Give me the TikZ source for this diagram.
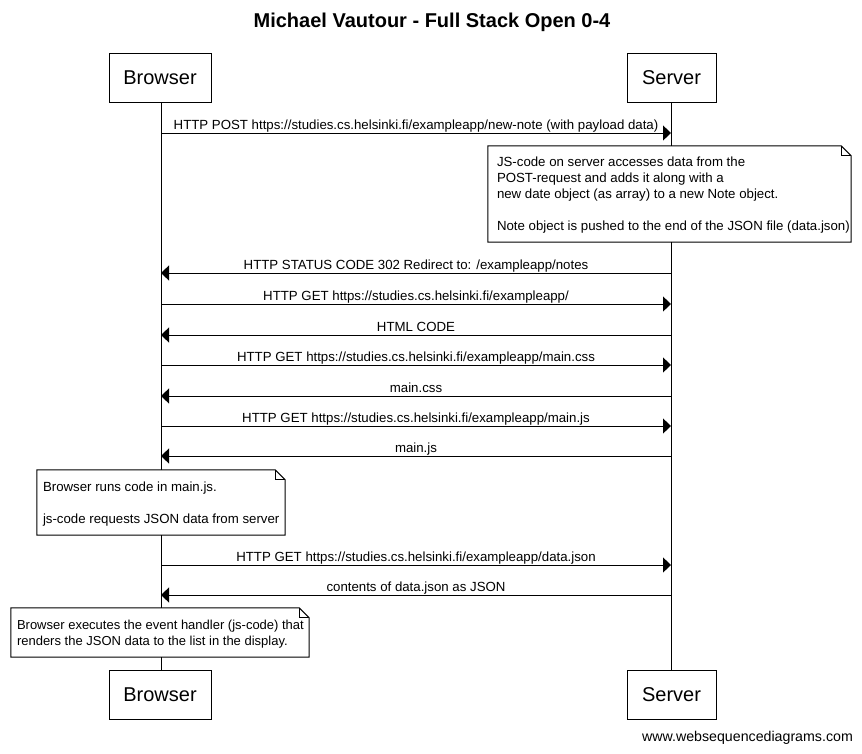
\documentclass[tikz,border=0pt]{standalone}
\usepackage{fontspec}
\setmainfont{Liberation Sans}
\usetikzlibrary{arrows.meta,calc}
\begin{document}
\begin{tikzpicture}[x=1pt,y=-1pt,
  actor/.style={draw, line width=1pt, fill=white, minimum height=49pt, inner sep=0pt, font=\fontsize{20}{24}\selectfont},
  life/.style={line width=1pt},
  msg/.style={line width=1pt, -{Triangle[length=8pt,width=15pt]}},
  lbl/.style={font=\fontsize{13.25}{16}\selectfont, anchor=base, inner sep=0pt, yshift=4pt},
  notebox/.style={fill=white, draw=none, inner sep=0pt},
  notetext/.style={anchor=west, inner sep=0pt, align=left, font=\fontsize{13.25}{16}\selectfont},
  noteline/.style={line width=1pt}
]
\useasboundingbox (0,0) rectangle (862,753);
\node[font=\bfseries\fontsize{20}{24}\selectfont] (title) at (432,22) {Michael Vautour - Full Stack Open 0-4};

\node[actor, minimum width=102pt] (Bt) at (160,77.5) {Browser};
\node[actor, minimum width=89pt] (St) at (671.5,77.5) {Server};
\node[actor, minimum width=102pt] (Bb) at (160,695) {Browser};
\node[actor, minimum width=89pt] (Sb) at (671.5,695) {Server};

\draw[life] (Bt.south -| 161,0) coordinate (bl1) -- (Bb.north -| 161,0) coordinate (bl2);
\draw[life] (St.south -| 671,0) coordinate (sl1) -- (Sb.north -| 671,0) coordinate (sl2);

\foreach \i/\y in {1/133,3/273,4/304,5/335,6/365,7/396,8/426,9/456,11/565,12/595}{
  \coordinate (B\i) at (161,\y);
  \coordinate (S\i) at (671,\y);
}

\draw[msg] (B1) -- (S1) node[midway, lbl] {HTTP POST https://studies.cs.helsinki.fi/exampleapp/new-note (with payload data)};
\draw[msg] (S3) -- (B3) node[midway, lbl] {HTTP STATUS CODE 302 Redirect to: /exampleapp/notes};
\draw[msg] (B4) -- (S4) node[midway, lbl] {HTTP GET https://studies.cs.helsinki.fi/exampleapp/};
\draw[msg] (S5) -- (B5) node[midway, lbl] {HTML CODE};
\draw[msg] (B6) -- (S6) node[midway, lbl] {HTTP GET https://studies.cs.helsinki.fi/exampleapp/main.css};
\draw[msg] (S7) -- (B7) node[midway, lbl] {main.css};
\draw[msg] (B8) -- (S8) node[midway, lbl] {HTTP GET https://studies.cs.helsinki.fi/exampleapp/main.js};
\draw[msg] (S9) -- (B9) node[midway, lbl] {main.js};
\draw[msg] (B11) -- (S11) node[midway, lbl] {HTTP GET https://studies.cs.helsinki.fi/exampleapp/data.json};
\draw[msg] (S12) -- (B12) node[midway, lbl] {contents of data.json as JSON};

\node[notebox, minimum width=363pt, minimum height=96pt] (n1) at (669.5,194) {};
\node[notebox, minimum width=248pt, minimum height=65pt] (n2) at (161,502.5) {};
\node[notebox, minimum width=298pt, minimum height=49pt] (n3) at (160,632.5) {};

\foreach \n in {n1,n2,n3}{
  \draw[noteline] (\n.north west) -- ([xshift=-10pt]\n.north east) -- ([yshift=-10pt]\n.north east) -- (\n.south east) -- (\n.south west) -- cycle;
  \draw[noteline] ([xshift=-10pt]\n.north east) -- ([xshift=-10pt,yshift=-10pt]\n.north east) -- ([yshift=-10pt]\n.north east);
}

\node[notetext] (n1t) at ([xshift=9pt,yshift=-1.5pt]n1.west)
 {JS-code on server accesses data from the\\POST-request and adds it along with a\\new date object (as array) to a new Note object.\\[16pt]Note object is pushed to the end of the JSON file (data.json)};
\node[notetext] (n2t) at ([xshift=6pt,yshift=-1.5pt]n2.west)
 {Browser runs code in main.js.\\[16pt]js-code requests JSON data from server};
\node[notetext, font=\fontsize{13}{16}\selectfont] (n3t) at ([xshift=6pt,yshift=-1.5pt]n3.west)
 {Browser executes the event handler (js-code) that\\renders the JSON data to the list in the display.};

\node[font=\fontsize{14.2}{17}\selectfont] (wm) at (747.5,738) {www.websequencediagrams.com};
\end{tikzpicture}
\end{document}
